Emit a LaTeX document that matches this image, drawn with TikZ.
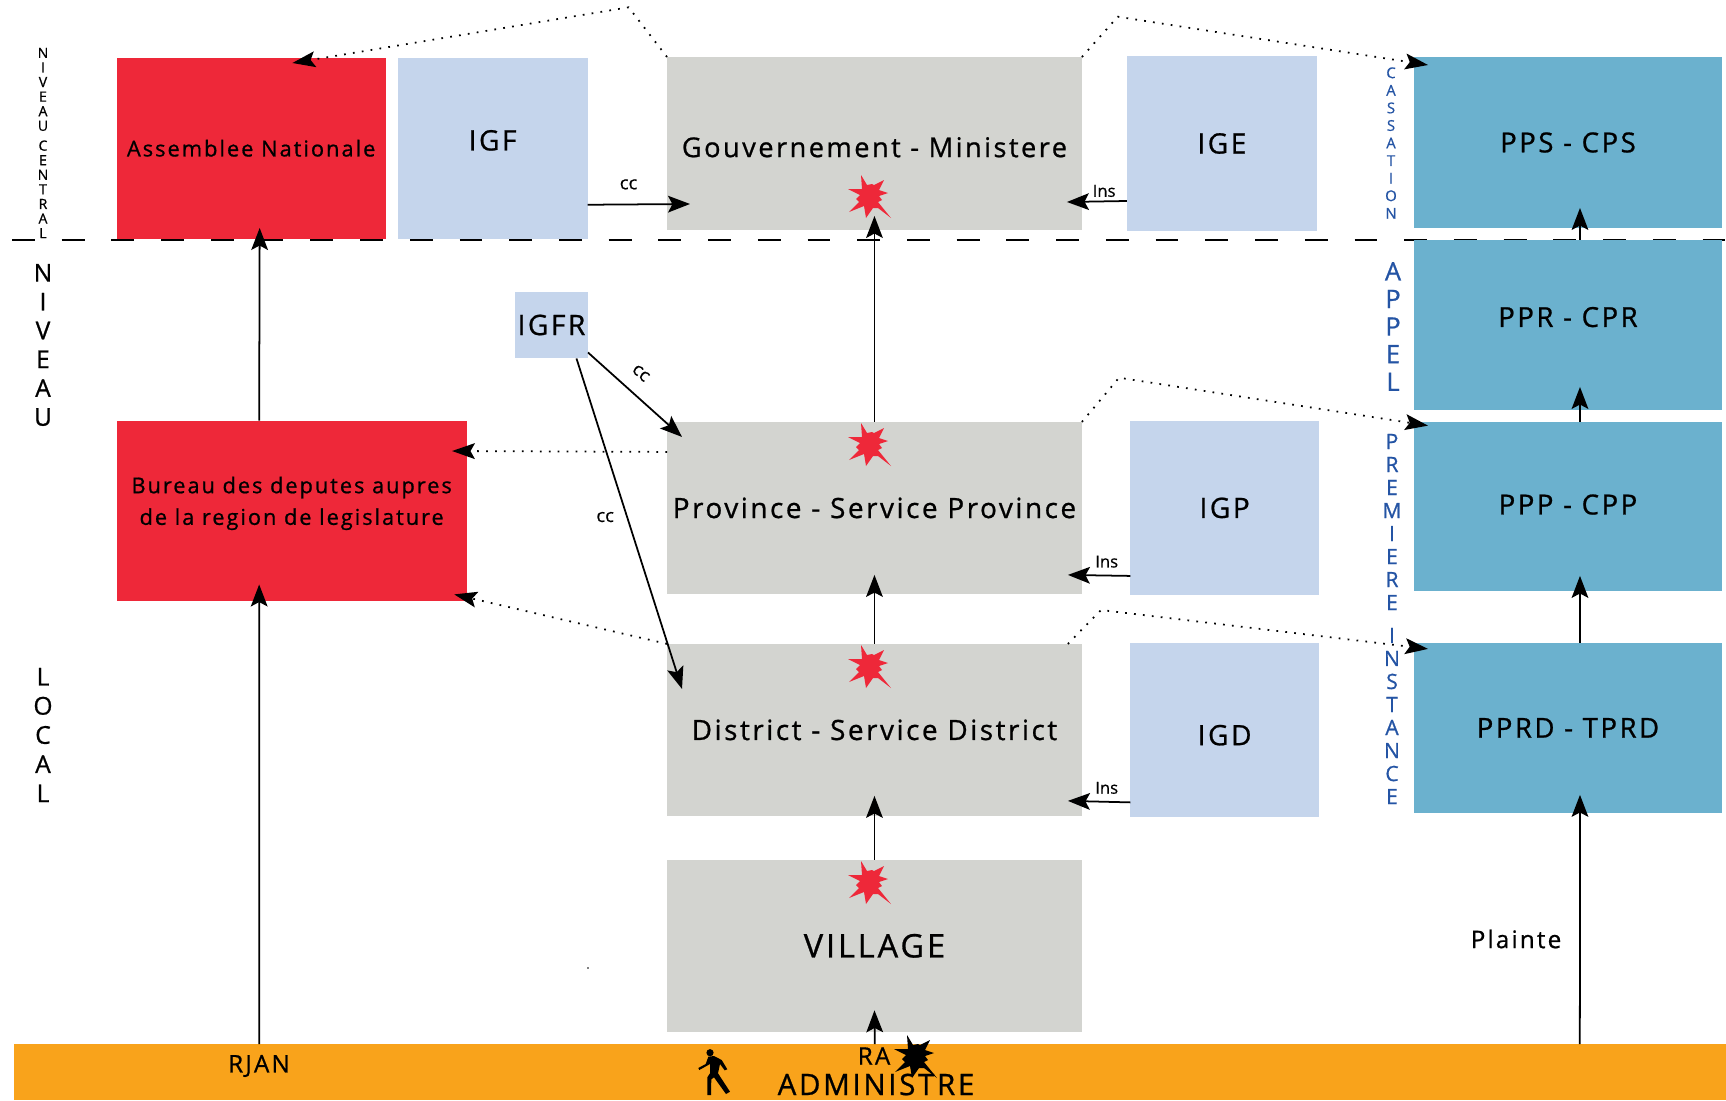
\documentclass[tikz,border=0pt]{standalone}
\usepackage{fontspec}
\setmainfont[FakeBold=0.4]{Open Sans}
\newfontfamily\widefont[LetterSpace=9, FakeBold=0.8]{Open Sans}
\newfontfamily\sidefont[FakeBold=0.8]{Open Sans}
\usetikzlibrary{arrows.meta, positioning}

\definecolor{rouge}{HTML}{EE2839}
\definecolor{bleuclair}{HTML}{C5D5EC}
\definecolor{gris}{HTML}{D3D4D0}
\definecolor{bleumer}{HTML}{6BB1CE}
\definecolor{orange}{HTML}{F9A31B}
\definecolor{bleutexte}{HTML}{2454A4}

\tikzset{
    redbox/.style={fill=rouge, inner sep=0pt, outer sep=0pt, align=center},
    igbox/.style={fill=bleuclair, inner sep=0pt, outer sep=0pt, align=center, font=\widefont\fontsize{16}{18}\selectfont},
    greybox/.style={fill=gris, inner sep=0pt, outer sep=0pt, minimum width=8.3cm},
    courtbox/.style={fill=bleumer, inner sep=0pt, outer sep=0pt, minimum width=6.16cm, font=\widefont\fontsize{15.7}{18}\selectfont},
    letters/.style={align=center, inner sep=0pt},
    conn/.style={-{Stealth[length=12.5pt, width=9.5pt, inset=2.5pt]}, line width=1pt},
    dots/.style={-{Stealth[length=13pt, width=9pt, inset=2.5pt]}, line width=1pt, dash pattern=on 1pt off 4.1pt},
    small/.style={inner sep=0pt, font=\fontsize{9.5}{11}\selectfont},
    burst/.pic={
        \fill[pic actions] (-10,-21) -- (-4,-11) -- (1,-12) -- (3,-11) -- (13,-16) -- (8,-6) -- (17,-3)
            -- (8,0) -- (11,4) -- (7,6) -- (20,22) -- (7,12) -- (2,12) -- (-5,22) -- (-7,10) -- (-22,16)
            -- (-12,6) -- (-15,3) -- (-11,-1) -- (-23,-7) -- (-9,-7) -- cycle;
    }
}

\begin{document}
\begin{tikzpicture}[x=0.02cm, y=-0.02cm]
\useasboundingbox (0,0) rectangle (1726,1100);

% Separation
\coordinate (dashL) at (12,239.8);
\coordinate (dashR) at (1726,239.8);
\draw [line width=1.3pt, dash pattern=on 13pt off 15.3pt] (dashL) -- (dashR);

% Left column
\node[redbox, anchor=north west,
    minimum width=5.38cm,
    minimum height=3.63cm,
    font=\widefont\fontsize{12.45}{18}\selectfont
] (assemblee) at (116.7,57.5) {Assemblee Nationale};

\node[igbox,
    right=0.24cm of assemblee,
    minimum width=3.8cm,
    minimum height=3.63cm,
    text depth=0.32cm
] (igf) {IGF};

\node[redbox, anchor=north west,
    minimum width=7cm,
    minimum height=3.61cm,
    text depth=0.4cm,
    font=\widefont\fontsize{12.4}{18}\selectfont
] (bureau) at (116.7,420.5) {Bureau des deputes aupres\\de la region de legislature};

\node[igbox, anchor=north west,
    minimum width=1.46cm,
    minimum height=1.34cm
] (igfr) at (515,291.5) {IGFR};

% Middle column
\node[greybox, anchor=north west,
    minimum height=3.46cm,
    text height=0.55cm,
    font=\widefont\fontsize{15.5}{18}\selectfont
] (gouv) at (667,57) {Gouvernement - Ministere};

\node[greybox,
    below=3.84cm of gouv,
    minimum height=3.44cm,
    font=\widefont\fontsize{15.9}{18}\selectfont
] (province) {Province - Service Province};

\node[greybox,
    below=1cm of province,
    minimum height=3.44cm,
    font=\widefont\fontsize{15.9}{18}\selectfont
] (district) {District - Service District};

\node[greybox,
    below=0.88cm of district,
    minimum height=3.44cm,
    font=\widefont\fontsize{18.5}{20}\selectfont
] (village) {VILLAGE};

\node[igbox,
    right=0.9cm of gouv,
    minimum width=3.8cm,
    minimum height=3.5cm
] (ige) {IGE};

\node[igbox,
    right=0.97cm of province,
    minimum width=3.77cm,
    minimum height=3.48cm
] (igp) {IGP};

\node[igbox,
    right=0.97cm of district,
    minimum width=3.77cm,
    minimum height=3.48cm,
    text height=0.62cm
] (igd) {IGD};

% Right column
\node[courtbox, anchor=north west,
    minimum height=3.42cm
] (pps) at (1414,57) {PPS - CPS};

\node[courtbox,
    below=0.24cm of pps,
    minimum height=3.4cm,
    text depth=0.32cm
] (ppr) {PPR - CPR};

\node[courtbox,
    below=0.24cm of ppr,
    minimum height=3.38cm,
    text depth=0.08cm
] (ppp) {PPP - CPP};

\node[courtbox,
    below=1.04cm of ppp,
    minimum height=3.4cm
] (pprd) {PPRD - TPRD};

% Bottom band
\node[fill=orange, inner sep=0pt, outer sep=0pt, anchor=north west,
    minimum width=34.24cm,
    minimum height=1.12cm
] (band) at (14,1044) {};

\node[inner sep=0pt, font=\widefont\fontsize{13.8}{15}\selectfont] (rjan) at (259,1066) {RJAN};
\node[inner sep=0pt, font=\widefont\fontsize{13.8}{15}\selectfont] (ra) at (874,1056) {RA};
\node[inner sep=0pt, font=\widefont\fontsize{16.8}{20}\selectfont] (administre) at (876,1084.5) {ADMINISTRE};
\node[inner sep=0pt, font=\widefont\fontsize{13.8}{15}\selectfont] (plainte) at (1516,939) {Plainte};

% Side letters
\node[letters, font=\sidefont\fontsize{8}{8.3}\selectfont] (niveaucentral) at (43,143) {N\\I\\V\\E\\A\\U\\[3pt]C\\E\\N\\T\\R\\A\\L};
\node[letters, font=\sidefont\fontsize{14}{16.4}\selectfont] (niveau) at (43,345) {N\\I\\V\\E\\A\\U};
\node[letters, font=\sidefont\fontsize{14}{16.6}\selectfont] (local) at (43,735) {L\\O\\C\\A\\L};
\node[letters, text=bleutexte, font=\sidefont\fontsize{8.5}{10}\selectfont] (cassation) at (1391,143) {C\\A\\S\\S\\A\\T\\I\\O\\N};
\node[letters, text=bleutexte, font=\sidefont\fontsize{14.5}{15.7}\selectfont] (appel) at (1393,326.5) {A\\P\\P\\E\\L};
\node[letters, text=bleutexte, font=\sidefont\fontsize{12}{13.1}\selectfont] (premiere) at (1392,619) {P\\R\\E\\M\\I\\E\\R\\E\\[5.6pt]I\\N\\S\\T\\A\\N\\C\\E};

% Arrows
\draw [conn] ([shift={(-32.5,0)}]bureau.north) -- ([shift={(8.5,-11)}]assemblee.south);
\draw [conn] ([shift={(-610.5,0)}]band.north) -- ([shift={(-32.5,-16.5)}]bureau.south);
\draw [conn] ([shift={(0,56.5)}]igf.east) -- node[small, font=\fontsize{10.5}{11}\selectfont, pos=.4, above=8pt]{cc} ([shift={(23,60.5)}]gouv.west);
\draw [conn] ([shift={(0,57.5)}]ige.west) -- node[small, pos=.38, above=2pt]{Ins} ([shift={(-15,58.5)}]gouv.east);
\draw [conn] ([shift={(0,68)}]igp.west) -- node[small, pos=.38, above=4pt]{Ins} ([shift={(-14,67)}]province.east);
\draw [conn] ([shift={(0,72.5)}]igd.west) -- node[small, pos=.38, above=4pt]{Ins} ([shift={(-14,71)}]district.east);
\draw [conn] (province.north) -- ([shift={(0,-14)}]gouv.south);
\draw [conn] (district.north) -- ([shift={(0,-19)}]province.south);
\draw [conn] (village.north) -- ([shift={(0,-20)}]district.south);
\draw [conn] ([shift={(5,0)}]band.north) -- ([shift={(0,-21.5)}]village.south);
\draw [conn] ([shift={(710,0)}]band.north) -- ([shift={(12,-18)}]pprd.south);
\draw [conn] ([shift={(12,0)}]pprd.north) -- ([shift={(12,-15)}]ppp.south);
\draw [conn] ([shift={(12,0)}]ppp.north) -- ([shift={(12,-23)}]ppr.south);
\draw [conn] ([shift={(12,0)}]ppr.north) -- ([shift={(12,-20)}]pps.south);
\draw [conn] ([shift={(0,-6)}]igfr.south east) -- node[small, font=\fontsize{10.5}{11}\selectfont, sloped, pos=.42, above=8pt]{cc} ([shift={(15,15)}]province.north west);
\draw [conn] ([xshift=0.5cm]igfr.south) -- node[small, font=\fontsize{10.5}{11}\selectfont, pos=.48, left=7pt]{cc} ([shift={(15,45)}]district.north west);

% Dotted arrows
\coordinate (topA) at (628.6,7.3);
\coordinate (topB) at (1117.7,16.7);
\coordinate (topC) at (1119,377.7);
\coordinate (topD) at (1101,610);
\draw [dots] (gouv.north west) -- (topA) -- ([shift={(175.7,5.5)}]assemblee.north west);
\draw [dots] (gouv.north east) -- (topB) -- ([shift={(14,8)}]pps.north west);
\draw [dots] (province.north east) -- (topC) -- ([shift={(14,3.7)}]ppp.north west);
\draw [dots] ([xshift=-8]district.north east) -- (topD) -- ([shift={(14,6)}]pprd.north west);
\draw [dots] ([shift={(0,30)}]province.north west) -- ([shift={(-14.6,30.5)}]bureau.north east);
\draw [dots] (district.north west) -- ([shift={(-12.4,-6.6)}]bureau.south east);

% Bursts
\pic[fill=rouge] (burstA) at (871,196) {burst};
\pic[fill=rouge] (burstB) at (871,444) {burst};
\pic[fill=rouge] (burstC) at (871,666) {burst};
\pic[fill=rouge] (burstD) at (871,882) {burst};
\pic[fill=black] (burstE) at (917,1056) {burst};

% Walker
\fill (710,1052.7) circle (3.6);
\fill (708.3,1056.7) -- (714,1056) -- (721.7,1060) -- (727.3,1069.3) -- (724.7,1070.3) -- (720,1064)
    -- (718,1073.3) -- (730,1091.7) -- (726,1094) -- (714,1077.3) -- (711.3,1079.3) -- (711,1095)
    -- (707.3,1095) -- (707.3,1077.3) -- (710,1073.3) -- (710,1064) -- (699.3,1070) -- (698.3,1068)
    -- (705.7,1064) -- cycle;
\fill (588,968) circle (0.8);
\end{tikzpicture}
\end{document}
